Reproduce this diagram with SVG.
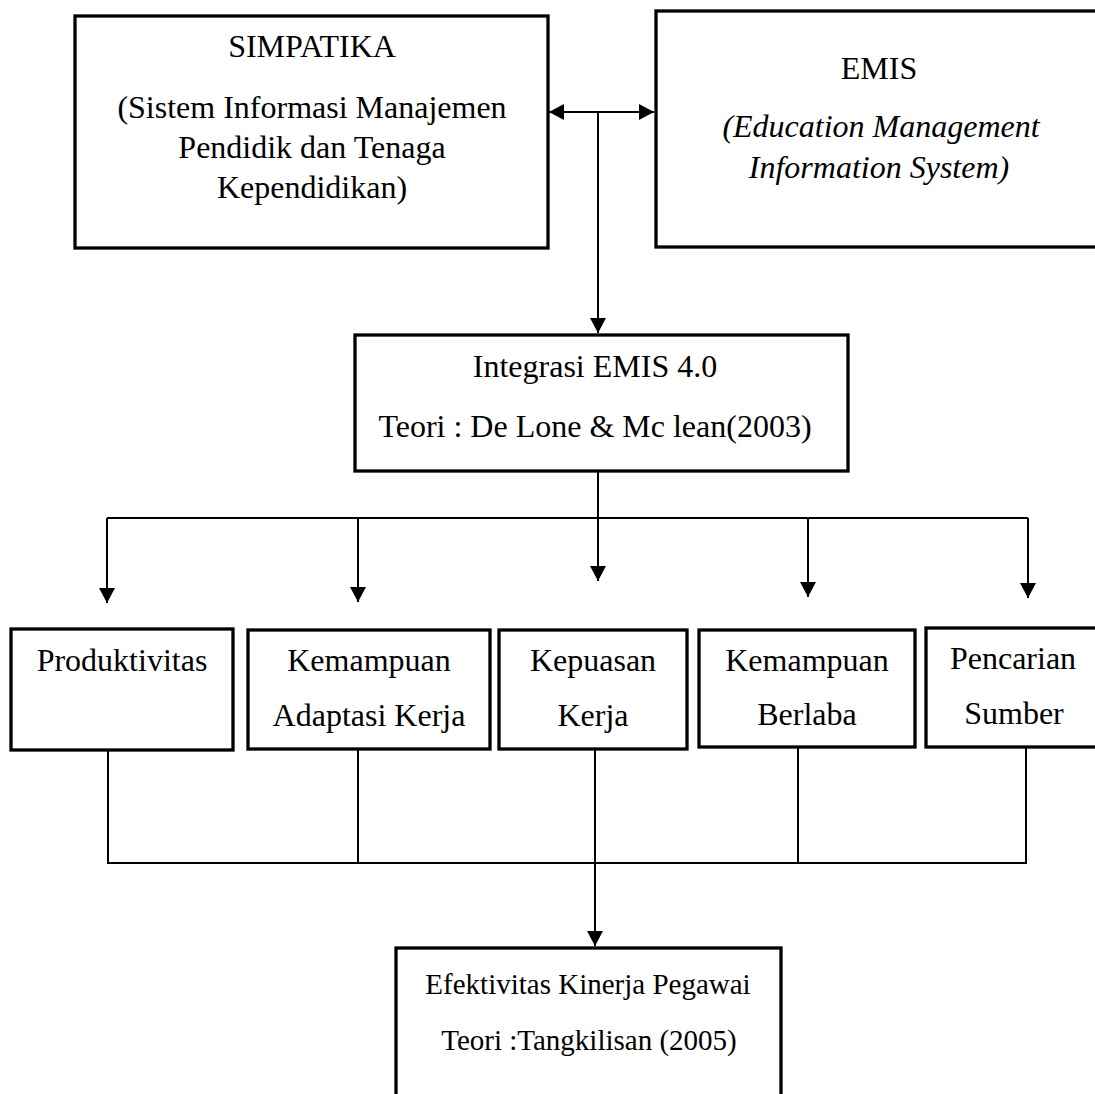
<svg xmlns="http://www.w3.org/2000/svg" width="1095" height="1094" viewBox="0 0 1095 1094">
  <style>
    .box { fill: #ffffff; stroke: #000000; stroke-width: 3.3; }
    .t { font-family: "Liberation Serif", "Times New Roman", serif; font-size: 32px; fill: #000000; text-anchor: middle; }
    .ti { font-style: italic; }
    .sm { font-size: 29px; }
    .c { fill: none; stroke: #000000; stroke-width: 2; }
  </style>
  <defs>
    <marker id="arr" viewBox="0 0 15 16" refX="15" refY="8" markerWidth="15" markerHeight="16" markerUnits="userSpaceOnUse" orient="auto-start-reverse">
      <path d="M0,0 L15,8 L0,16 Z" fill="#000000"/>
    </marker>
  </defs>
  <rect width="1095" height="1094" fill="#ffffff"/>

  <g id="connectors">
    <line class="c" x1="549" y1="112" x2="654" y2="112" marker-start="url(#arr)" marker-end="url(#arr)"/>
    <line class="c" x1="598" y1="112" x2="598" y2="333" marker-end="url(#arr)"/>
    <line class="c" x1="598" y1="471" x2="598" y2="518"/>
    <line class="c" x1="107" y1="518" x2="1028" y2="518"/>
    <line class="c" x1="107" y1="518" x2="107" y2="603" marker-end="url(#arr)"/>
    <line class="c" x1="358" y1="518" x2="358" y2="602" marker-end="url(#arr)"/>
    <line class="c" x1="598" y1="518" x2="598" y2="581" marker-end="url(#arr)"/>
    <line class="c" x1="808" y1="518" x2="808" y2="597" marker-end="url(#arr)"/>
    <line class="c" x1="1028" y1="518" x2="1028" y2="598" marker-end="url(#arr)"/>
    <polyline class="c" points="108,750 108,863 1026,863 1026,747"/>
    <line class="c" x1="358" y1="749" x2="358" y2="863"/>
    <line class="c" x1="798" y1="747" x2="798" y2="863"/>
    <line class="c" x1="595" y1="749" x2="595" y2="946" marker-end="url(#arr)"/>
  </g>

  <g id="simpatika">
    <rect class="box" x="75" y="16" width="473" height="232"/>
    <text class="t" x="312" y="57">SIMPATIKA</text>
    <text class="t" x="312" y="118">(Sistem Informasi Manajemen</text>
    <text class="t" x="312" y="158">Pendidik dan Tenaga</text>
    <text class="t" x="312" y="198">Kependidikan)</text>
  </g>

  <g id="emis">
    <rect class="box" x="656" y="11" width="446" height="236"/>
    <text class="t" x="879" y="79">EMIS</text>
    <text class="t ti" x="881" y="137">(Education Management</text>
    <text class="t ti" x="879" y="178">Information System)</text>
  </g>

  <g id="integrasi">
    <rect class="box" x="355" y="335" width="493" height="136"/>
    <text class="t" x="595" y="377">Integrasi EMIS 4.0</text>
    <text class="t" x="595" y="437">Teori : De Lone &amp; Mc lean(2003)</text>
  </g>

  <g id="produktivitas">
    <rect class="box" x="11" y="629" width="222" height="121"/>
    <text class="t" x="122" y="671">Produktivitas</text>
  </g>

  <g id="adaptasi">
    <rect class="box" x="248" y="630" width="242" height="119"/>
    <text class="t" x="369" y="671">Kemampuan</text>
    <text class="t" x="369" y="726">Adaptasi Kerja</text>
  </g>

  <g id="kepuasan">
    <rect class="box" x="499" y="630" width="188" height="119"/>
    <text class="t" x="593" y="671">Kepuasan</text>
    <text class="t" x="593" y="726">Kerja</text>
  </g>

  <g id="berlaba">
    <rect class="box" x="699" y="630" width="216" height="117"/>
    <text class="t" x="807" y="671">Kemampuan</text>
    <text class="t" x="807" y="725">Berlaba</text>
  </g>

  <g id="pencarian">
    <rect class="box" x="926" y="628" width="174" height="119"/>
    <text class="t" x="1013" y="669">Pencarian</text>
    <text class="t" x="1014" y="724">Sumber</text>
  </g>

  <g id="efektivitas">
    <rect class="box" x="396" y="948" width="385" height="160"/>
    <text class="t sm" x="588" y="994">Efektivitas Kinerja Pegawai</text>
    <text class="t sm" x="589" y="1050">Teori :Tangkilisan (2005)</text>
  </g>
</svg>
